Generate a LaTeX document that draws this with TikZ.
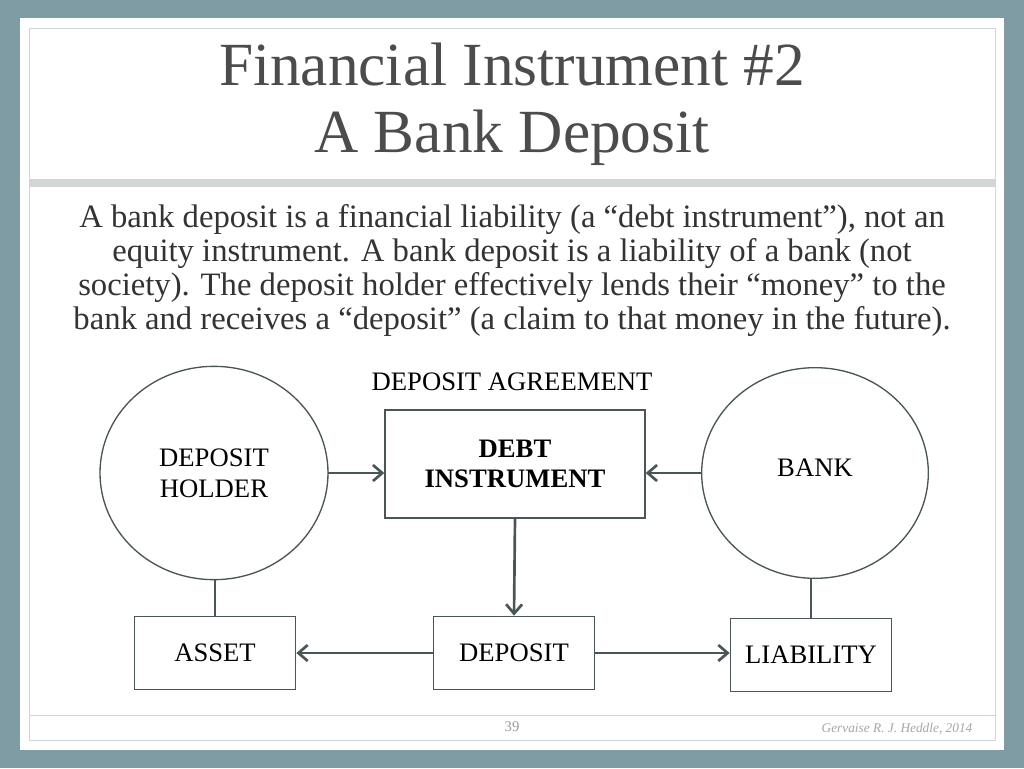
\documentclass[tikz,border=0pt]{standalone}
\usepackage{fontspec}
\setmainfont{Liberation Serif}
\usetikzlibrary{arrows.meta,shapes.geometric}
\definecolor{slate}{HTML}{7F9BA4}
\definecolor{arrowgray}{HTML}{4A5557}
\definecolor{bandgray}{HTML}{D3D6D7}
\begin{document}
\begin{tikzpicture}[x=0.75pt,y=-0.75pt,
  every node/.style={inner sep=0pt},
  bubble/.style={ellipse, draw=arrowgray, line width=1pt, outer sep=0pt, minimum width=171, minimum height=160},
  box/.style={draw=arrowgray, line width=1pt, fill=white, align=center},
  link/.style={draw=arrowgray, line width=2pt, -{Straight Barb[length=7pt,width=12pt]}}]
  \useasboundingbox (0,0) rectangle (1024,768);
  \fill[slate] (0,0) rectangle (1024,768);
  \fill[white] (20,18) rectangle (1004,750);
  \draw[bandgray, line width=0.6pt] (29,28) rectangle (995,740);
  \fill[bandgray] (29,179) rectangle (995,187);
  \draw[bandgray, line width=0.6pt] (29,715) -- (995,715);
  % title and text
  \node[align=center, font=\fontsize{46}{50}\selectfont, text=black!70] (title) at (512,104)
    {Financial Instrument \#2\\A Bank Deposit};
  \node[align=center, font=\fontsize{24.5}{25.5}\selectfont, text=black!80] (intro) at (512,271)
    {A bank deposit is a financial liability (a “debt instrument”), not an\\
     equity instrument. A bank deposit is a liability of a bank (not\\
     society). The deposit holder effectively lends their “money” to the\\
     bank and receives a “deposit” (a claim to that money in the future).};
  % diagram
  \node[bubble] (holder) at (214,473) {};
  \node[align=center, font=\fontsize{20}{23}\selectfont] (holdertxt) at (214,473) {DEPOSIT\\HOLDER};
  \node[bubble, minimum width=170, minimum height=158] (bank) at (815,473) {};
  \node[font=\fontsize{20}{20}\selectfont] (banktxt) at (815,468) {BANK};
  \node[box, minimum width=195, minimum height=81, font=\fontsize{20}{23}\selectfont\bfseries] (debt) at (515,464) {DEBT\\INSTRUMENT};
  \node[font=\fontsize{20}{20}\selectfont] (agree) at (512,382) {DEPOSIT AGREEMENT};
  \node[box, minimum width=121, minimum height=55, font=\fontsize{20}{20}\selectfont] (asset) at (215,653) {ASSET};
  \node[box, minimum width=121, minimum height=55, font=\fontsize{20}{20}\selectfont] (deposit) at (514,653) {DEPOSIT};
  \node[box, minimum width=121, minimum height=55, font=\fontsize{20}{20}\selectfont] (liab) at (811,655) {LIABILITY};
  \draw[link] (holder.east) -- (debt.west |- holder.east);
  \draw[link] (bank.west) -- (debt.east |- bank.west);
  \draw[link] (debt.south) -- (deposit.north);
  \draw[link] (deposit.west) -- (asset.east);
  \draw[link] (deposit.east) -- (liab.west |- deposit.east);
  \draw[arrowgray, line width=2pt] (holder.south -| asset.north) -- (asset.north);
  \draw[arrowgray, line width=2pt] (bank.south -| liab.north) -- (liab.north);
  % footer
  \node[font=\fontsize{11}{12}\selectfont, text=black!40] (page) at (512,727) {39};
  \node[font=\fontsize{10}{12}\selectfont\itshape, text=black!35] (sign) at (897,729) {Gervaise R. J. Heddle, 2014};
\end{tikzpicture}
\end{document}
